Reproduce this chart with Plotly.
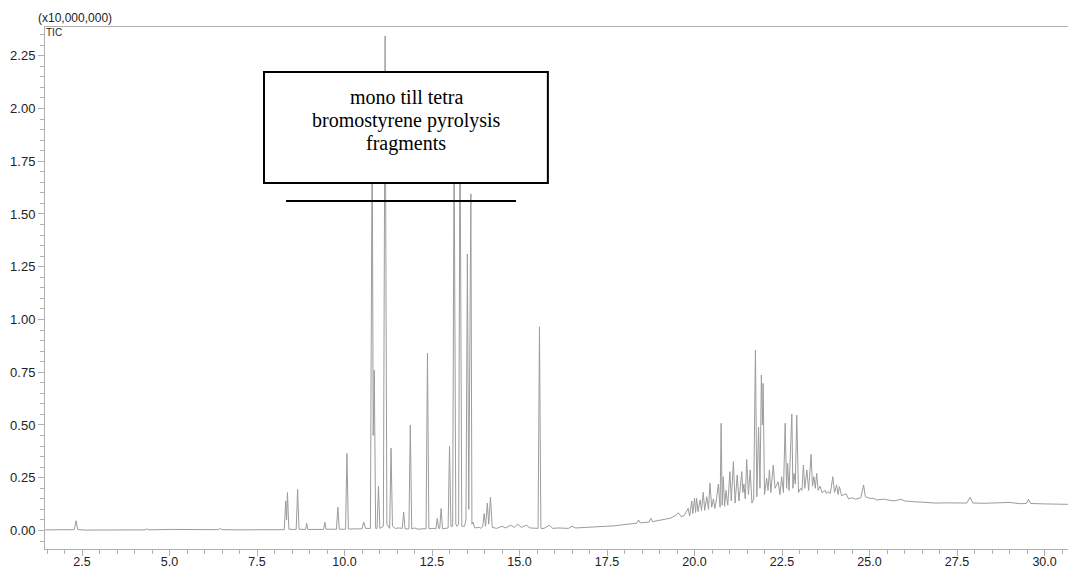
import plotly.graph_objects as go

# ---- Data (retention time in min, TIC in units of 10,000,000) ----
rt_early = [1.45, 2.0, 2.28, 2.33, 2.38, 2.6, 3.5, 4.3, 4.35, 4.4, 5.0, 6.0, 6.4, 6.45, 6.5, 7.0, 7.6, 8.2]
tic_early = [0.003, 0.004, 0.004, 0.046, 0.004, 0.002, 0.002, 0.003, 0.008, 0.003, 0.005, 0.004, 0.004, 0.01, 0.004, 0.003, 0.002, 0.003]

rt_main = [8.28, 8.32, 8.345, 8.37, 8.41, 8.62, 8.66, 8.70, 8.89, 8.92, 8.95, 9.40, 9.44, 9.47,
           9.77, 9.81, 9.85, 10.03, 10.07, 10.11, 10.50, 10.55, 10.60, 10.74, 10.79, 10.82, 10.85, 10.89,
           10.93, 10.97, 11.01, 11.11, 11.16, 11.21, 11.29, 11.33, 11.37, 11.45, 11.55, 11.65, 11.69, 11.73,
           11.84, 11.88, 11.92, 12.0, 12.1, 12.2, 12.33, 12.37, 12.41, 12.55, 12.61, 12.65, 12.69, 12.72,
           12.76, 12.80, 12.96, 13.00, 13.04, 13.09, 13.13, 13.18, 13.21, 13.26, 13.30, 13.35, 13.43, 13.47,
           13.51, 13.55, 13.61, 13.64, 13.67, 13.72, 13.85, 13.9, 13.95, 13.99, 14.03, 14.08, 14.12, 14.17,
           14.22, 14.35, 14.5, 14.6, 14.75, 14.85, 14.95, 15.05, 15.2, 15.3, 15.45, 15.53, 15.57, 15.61,
           15.7, 15.85, 15.95, 16.1, 16.4, 16.5, 16.6]
tic_main = [0.004, 0.14, 0.05, 0.18, 0.006, 0.005, 0.195, 0.006, 0.005, 0.034, 0.005, 0.005, 0.039, 0.006,
            0.006, 0.11, 0.006, 0.006, 0.365, 0.007, 0.008, 0.04, 0.01, 0.01, 1.92, 0.45, 0.76, 0.01,
            0.01, 0.21, 0.01, 0.02, 2.344, 0.03, 0.01, 0.39, 0.02, 0.01, 0.012, 0.01, 0.087, 0.008,
            0.008, 0.50, 0.008, 0.012, 0.006, 0.008, 0.008, 0.84, 0.008, 0.01, 0.008, 0.057, 0.01, 0.01,
            0.104, 0.008, 0.012, 0.40, 0.02, 0.02, 1.85, 0.03, 0.02, 0.03, 1.95, 0.02, 0.02, 0.05,
            1.31, 0.1, 1.595, 0.03, 0.04, 0.012, 0.015, 0.01, 0.02, 0.08, 0.02, 0.13, 0.03, 0.158,
            0.015, 0.01, 0.02, 0.012, 0.025, 0.015, 0.03, 0.015, 0.025, 0.012, 0.01, 0.01, 0.965, 0.01,
            0.01, 0.025, 0.01, 0.012, 0.01, 0.02, 0.012]

rt_rise = [17.0, 17.3, 17.7, 18.1, 18.35, 18.4, 18.45, 18.7, 18.75, 18.8, 19.1, 19.3, 19.45, 19.54, 19.62]
tic_rise = [0.015, 0.018, 0.022, 0.03, 0.035, 0.05, 0.036, 0.04, 0.058, 0.042, 0.05, 0.058, 0.07, 0.084, 0.065]

rt_hump = [19.70, 19.82, 19.86, 19.92, 19.95, 20.00, 20.03, 20.06, 20.10, 20.16, 20.20, 20.25, 20.29, 20.35,
           20.40, 20.44, 20.49, 20.54, 20.58, 20.62, 20.68, 20.73, 20.76, 20.79, 20.82, 20.86, 20.90, 20.95,
           21.01, 21.05, 21.11, 21.16, 21.22, 21.27, 21.35, 21.38, 21.41, 21.45, 21.49, 21.54, 21.59, 21.64,
           21.69, 21.74, 21.78, 21.83, 21.87, 21.91, 21.94, 21.96, 22.00, 22.06, 22.10, 22.14, 22.18, 22.25,
           22.30, 22.39, 22.44, 22.49, 22.54, 22.59, 22.63, 22.66, 22.70, 22.78, 22.81, 22.84, 22.88, 22.92,
           22.97, 23.03, 23.07, 23.11, 23.15, 23.21, 23.26, 23.33, 23.37, 23.41, 23.45, 23.49, 23.53, 23.59,
           23.64, 23.73, 23.77, 23.81, 23.88, 23.95, 24.00, 24.06, 24.10, 24.14, 24.20, 24.33, 24.40, 24.5,
           24.6, 24.75, 24.83, 24.88]
tic_hump = [0.07, 0.105, 0.068, 0.14, 0.08, 0.153, 0.085, 0.153, 0.09, 0.145, 0.095, 0.181, 0.095, 0.16,
            0.10, 0.224, 0.11, 0.15, 0.105, 0.14, 0.22, 0.11, 0.508, 0.12, 0.255, 0.115, 0.19, 0.12,
            0.279, 0.14, 0.326, 0.13, 0.263, 0.14, 0.279, 0.18, 0.22, 0.15, 0.337, 0.17, 0.287, 0.13,
            0.15, 0.855, 0.16, 0.49, 0.2, 0.737, 0.5, 0.697, 0.17, 0.247, 0.19, 0.287, 0.18, 0.31,
            0.2, 0.231, 0.17, 0.255, 0.18, 0.508, 0.2, 0.318, 0.19, 0.552, 0.2, 0.271, 0.22, 0.547,
            0.18, 0.20, 0.19, 0.31, 0.2, 0.287, 0.19, 0.361, 0.21, 0.255, 0.2, 0.271, 0.19, 0.21,
            0.18, 0.19, 0.175, 0.185, 0.175, 0.255, 0.18, 0.216, 0.17, 0.208, 0.165, 0.174, 0.15, 0.155,
            0.148, 0.155, 0.216, 0.16]

rt_tail = [25.0, 25.1, 25.2, 25.4, 25.57, 25.7, 25.9, 26.0, 26.3, 26.6, 26.9, 27.2, 27.6, 27.78, 27.87,
           27.95, 28.3, 28.7, 29.0, 29.3, 29.48, 29.54, 29.6, 30.0, 30.3, 30.67]
tic_tail = [0.152, 0.153, 0.145, 0.148, 0.145, 0.14, 0.148, 0.14, 0.136, 0.133, 0.13, 0.131, 0.129, 0.13, 0.157,
            0.13, 0.129, 0.13, 0.133, 0.127, 0.128, 0.148, 0.128, 0.126, 0.125, 0.124]

x_tick_labels = ["2.5", "5.0", "7.5", "10.0", "12.5", "15.0", "17.5", "20.0", "22.5", "25.0", "27.5", "30.0"]
box_text = ["mono till tetra", "bromostyrene pyrolysis", "fragments"]

rt = rt_early + rt_main + rt_rise + rt_hump + rt_tail
tic = tic_early + tic_main + tic_rise + tic_hump + tic_tail

fig = go.Figure()
fig.add_trace(go.Scatter(x=rt, y=tic, mode="lines",
                         line=dict(color="#9c9c9c", width=1), hoverinfo="skip", showlegend=False))

axis_col = "#b0b0b0"
fig.update_layout(
    width=1068, height=571,
    margin=dict(l=45, r=0, t=27, b=22, autoexpand=False),
    paper_bgcolor="white", plot_bgcolor="white",
    font=dict(family="Liberation Sans, Arial, sans-serif", size=13, color="#222"),
    xaxis=dict(range=[1.443, 30.67], showgrid=False, zeroline=False, automargin=False,
               showline=True, linecolor=axis_col, linewidth=1, mirror=True,
               tickmode="array", tickvals=[float(v) for v in x_tick_labels], ticktext=x_tick_labels,
               ticks="outside", ticklen=6, tickcolor=axis_col, tickwidth=1,
               tickfont=dict(size=12.5), ticklabelstandoff=-5,
               minor=dict(dtick=0.5, tick0=0, ticks="outside", ticklen=4, tickcolor=axis_col, tickwidth=1)),
    yaxis=dict(range=[-0.0877, 2.386], showgrid=False, zeroline=False, automargin=False,
               showline=True, linecolor=axis_col, linewidth=1,
               dtick=0.25, tick0=0, tickformat=".2f",
               ticks="outside", ticklen=6, tickcolor=axis_col, tickwidth=1,
               minor=dict(dtick=0.05, tick0=0, ticks="outside", ticklen=4, tickcolor=axis_col, tickwidth=1)),
)

# Annotation box (white-filled, over the trace) and horizontal bar
fig.add_shape(type="rect", xref="x", yref="y", x0=7.70, x1=15.81, y0=1.647, y1=2.173,
              line=dict(color="black", width=2), fillcolor="white", layer="above")
fig.add_shape(type="line", xref="x", yref="y", x0=8.33, x1=14.9, y0=1.562, y1=1.562,
              line=dict(color="black", width=2), layer="above")

for txt, yv in zip(box_text, [2.052, 1.943, 1.834]):
    fig.add_annotation(x=11.76, y=yv, xref="x", yref="y", text=txt, showarrow=False,
                       font=dict(family="Liberation Serif, Times New Roman, serif", size=20, color="black"),
                       xanchor="center", yanchor="middle")

fig.add_annotation(x=0, y=1, xref="paper", yref="paper", text="(x10,000,000)", showarrow=False,
                   font=dict(size=12, color="#222"), xanchor="left", yanchor="bottom",
                   xshift=-9, yshift=0)
fig.add_annotation(x=0, y=1, xref="paper", yref="paper", text="TIC", showarrow=False,
                   font=dict(size=10, color="#222"), xanchor="left", yanchor="top", xshift=-1, yshift=2)

fig.write_html("out.html", config={"displayModeBar": False},
               post_script="document.body.style.margin='0';document.body.style.padding='0';")
